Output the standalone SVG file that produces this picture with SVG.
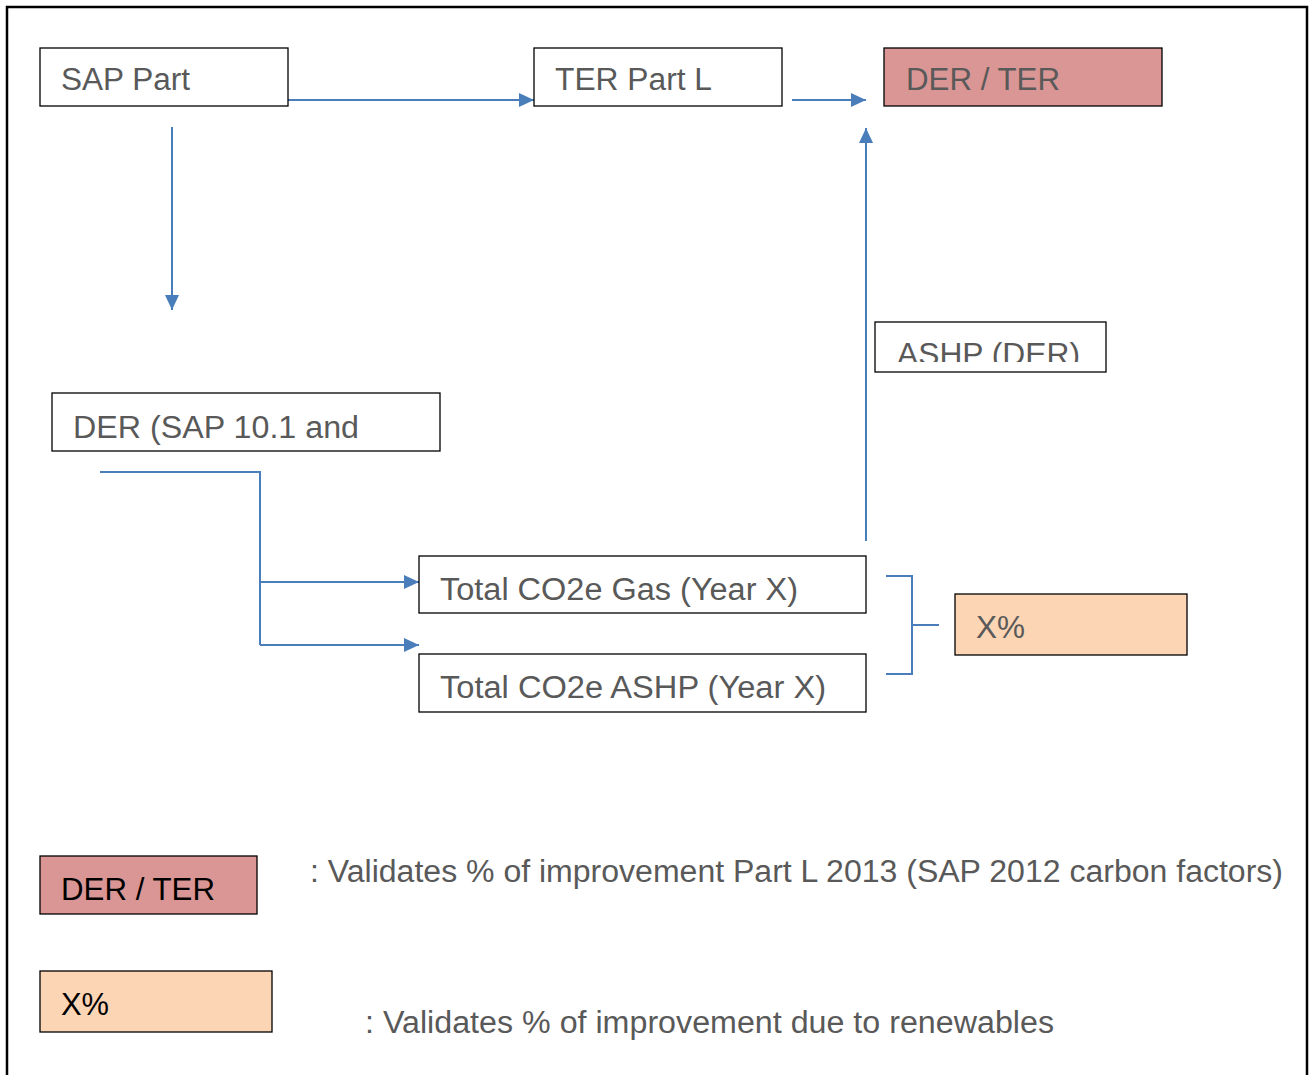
<svg xmlns="http://www.w3.org/2000/svg" width="1315" height="1075" viewBox="0 0 1315 1075">
<style>
.box{fill:#ffffff;stroke:#000000;stroke-width:1.3}
.red{fill:#d99694;stroke:#000000;stroke-width:1.3}
.org{fill:#fcd5b5;stroke:#000000;stroke-width:1.3}
.t{font-family:"Liberation Sans",Arial,sans-serif;font-size:31px;fill:#595959}
.tb{font-family:"Liberation Sans",Arial,sans-serif;font-size:31px;fill:#000000}
.c{fill:none;stroke:#4a7ebb;stroke-width:2}
</style>
<defs>
<marker id="ah" markerUnits="userSpaceOnUse" markerWidth="16" markerHeight="16" refX="15" refY="7" orient="auto">
<path d="M0,0 L15,7 L0,14 z" fill="#4a7ebb"/>
</marker>
<clipPath id="clipAshp"><rect x="875" y="322" width="232" height="40"/></clipPath>
</defs>
<rect x="7" y="7" width="1300" height="1090" fill="#ffffff" stroke="#000000" stroke-width="2.5"/>
<g id="connectors">
<line class="c" x1="288" y1="100" x2="534" y2="100" marker-end="url(#ah)"/>
<line class="c" x1="792" y1="100" x2="866" y2="100" marker-end="url(#ah)"/>
<line class="c" x1="866" y1="541" x2="866" y2="128" marker-end="url(#ah)"/>
<line class="c" x1="172" y1="127" x2="172" y2="310" marker-end="url(#ah)"/>
<polyline class="c" points="100,472 260,472 260,645"/>
<line class="c" x1="260" y1="582" x2="419" y2="582" marker-end="url(#ah)"/>
<line class="c" x1="260" y1="645" x2="419" y2="645" marker-end="url(#ah)"/>
<polyline class="c" points="886,576 912,576 912,674 886,674"/>
<line class="c" x1="912" y1="625" x2="939" y2="625"/>
</g>
<g id="sap-part">
<rect class="box" x="40" y="48" width="248" height="58"/>
<text class="t" x="61" y="90" textLength="129" lengthAdjust="spacingAndGlyphs">SAP Part</text>
</g>
<g id="ter-part-l">
<rect class="box" x="534" y="48" width="248" height="58"/>
<text class="t" x="555" y="90" textLength="157" lengthAdjust="spacingAndGlyphs">TER Part L</text>
</g>
<g id="der-ter">
<rect class="red" x="884" y="48" width="278" height="58"/>
<text class="t" x="906" y="90" textLength="154" lengthAdjust="spacingAndGlyphs">DER / TER</text>
</g>
<g id="ashp-der">
<rect class="box" x="875" y="322" width="231" height="50"/>
<text class="t" x="897" y="365" textLength="183" lengthAdjust="spacingAndGlyphs" clip-path="url(#clipAshp)">ASHP (DER)</text>
</g>
<g id="der-sap">
<rect class="box" x="52" y="393" width="388" height="58"/>
<text class="t" x="73" y="438" textLength="286" lengthAdjust="spacingAndGlyphs">DER (SAP 10.1 and</text>
</g>
<g id="co2-gas">
<rect class="box" x="419" y="556" width="447" height="57"/>
<text class="t" x="440" y="600" textLength="358" lengthAdjust="spacingAndGlyphs">Total CO2e Gas (Year X)</text>
</g>
<g id="co2-ashp">
<rect class="box" x="419" y="654" width="447" height="58"/>
<text class="t" x="440" y="698" textLength="386" lengthAdjust="spacingAndGlyphs">Total CO2e ASHP (Year X)</text>
</g>
<g id="x-pct">
<rect class="org" x="955" y="594" width="232" height="61"/>
<text class="t" x="976" y="638" textLength="49" lengthAdjust="spacingAndGlyphs">X%</text>
</g>
<g id="legend-der-ter">
<rect class="red" x="40" y="856" width="217" height="58"/>
<text class="tb" x="61" y="900" textLength="154" lengthAdjust="spacingAndGlyphs">DER / TER</text>
<text class="t" x="310" y="882" textLength="973" lengthAdjust="spacingAndGlyphs">: Validates % of improvement Part L 2013 (SAP 2012 carbon factors)</text>
</g>
<g id="legend-x-pct">
<rect class="org" x="40" y="971" width="232" height="61"/>
<text class="tb" x="61" y="1015" textLength="48" lengthAdjust="spacingAndGlyphs">X%</text>
<text class="t" x="365" y="1033" textLength="689" lengthAdjust="spacingAndGlyphs">: Validates % of improvement due to renewables</text>
</g>
</svg>
